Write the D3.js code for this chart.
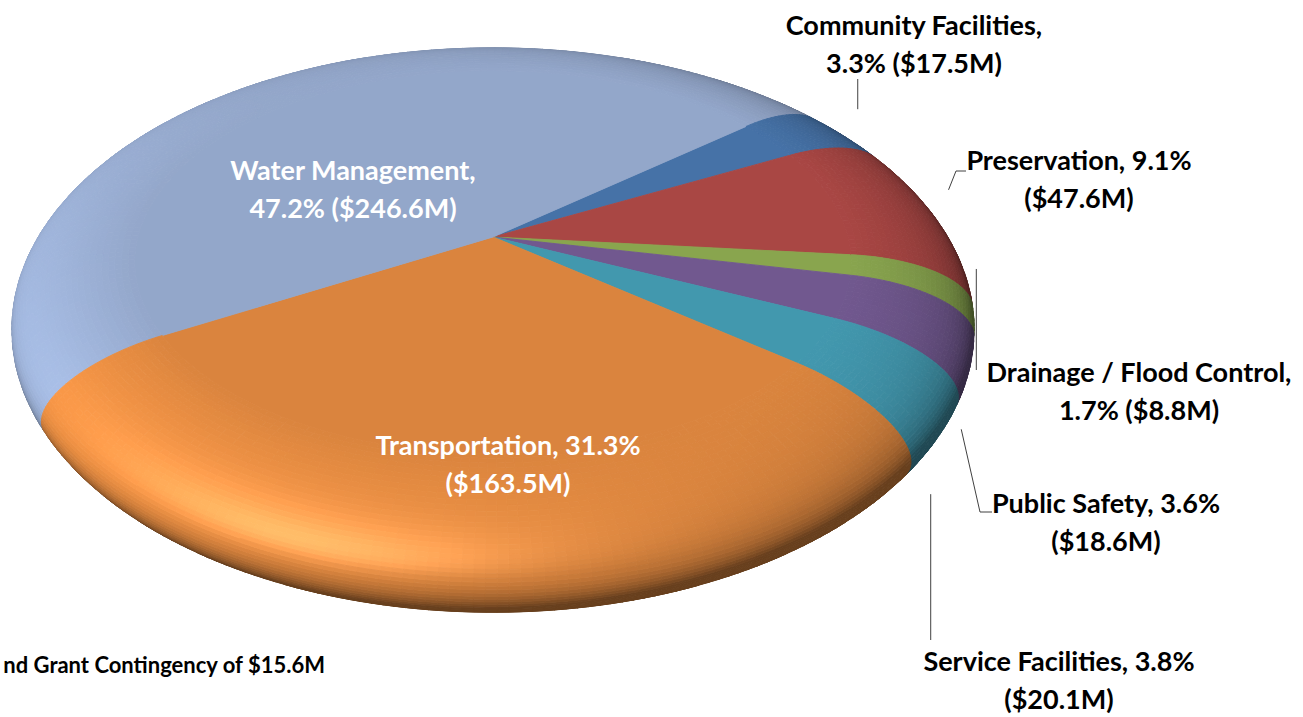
<!DOCTYPE html>
<html>
<head>
<meta charset="utf-8">
<script src="https://cdn.jsdelivr.net/npm/d3@7"></script>
<style>
  html, body { margin: 0; padding: 0; background: #fff; }
  svg { display: block; }
  text { font-family: Lato, "Open Sans", sans-serif; font-weight: 700; }
</style>
</head>
<body>
<svg width="1303" height="717"></svg>
<script>
// slices, clockwise from the top right
const categories = ["Community Facilities", "Preservation", "Drainage / Flood Control",
  "Public Safety", "Service Facilities", "Transportation", "Water Management"];
const amounts = [17.5, 47.6, 8.8, 18.6, 20.1, 163.5, 246.6]; // $M
const colors = ["#4F81BD", "#C0504D", "#9BBB59", "#8064A2", "#4BACC6", "#F79646", "#A7BDE5"];
const contingency = 15.6; // $M, footnote

const svg = d3.select("svg");
const rad = Math.PI / 180;

// disc of radius 1: flat top out to r0, then a rounded bevel that curls under
const r0 = 0.74, bevW = 0.26, bevD = 0.12, phiMax = 150;
const startT = 39.5; // where the first slice starts, degrees ccw from the right

// where the pie has to sit on the page
const box = { cx: 493, cy: 237, top: 48, bottom: 612, halfW: 481.5 };

function bevelPoint(t, phi) {
  const r = r0 + bevW * Math.sin(phi);
  return [r * Math.cos(t), r * Math.sin(t), -bevD * (1 - Math.cos(phi))];
}
function bevelNormal(t, phi) {
  const nr = Math.sin(phi) / bevW, nh = Math.cos(phi) / bevD;
  const l = Math.hypot(nr, nh);
  return [nr / l * Math.cos(t), nr / l * Math.sin(t), nh / l];
}

const dot = (a, b) => a[0] * b[0] + a[1] * b[1] + a[2] * b[2];
const sub = (a, b) => [a[0] - b[0], a[1] - b[1], a[2] - b[2]];
const add = (a, b) => [a[0] + b[0], a[1] + b[1], a[2] + b[2]];
const norm = a => { const l = Math.hypot(a[0], a[1], a[2]); return [a[0] / l, a[1] / l, a[2] / l]; };

// pick elevation + distance so the outline has the right shape
function fitCamera() {
  const samples = [];
  for (let t = 0; t < 360; t += 4)
    for (let phi = 0; phi <= phiMax; phi += 5) samples.push(bevelPoint(t * rad, phi * rad));
  const wantRatio = (box.cy - box.top) / (box.bottom - box.cy);
  const wantAspect = (box.bottom - box.top) / (2 * box.halfW);
  let best = { err: Infinity };
  for (let e = 20; e <= 50; e += 0.5) {
    const se = Math.sin(e * rad), ce = Math.cos(e * rad);
    for (let d = 2; d <= 16; d += 0.1) {
      let up = -Infinity, dn = Infinity, side = 0;
      for (const p of samples) {
        const z = d + p[1] * ce - p[2] * se;
        const y = (p[1] * se + p[2] * ce) / z, x = Math.abs(p[0]) / z;
        if (y > up) up = y;
        if (y < dn) dn = y;
        if (x > side) side = x;
      }
      const ratio = up / -dn, aspect = (up - dn) / (2 * side);
      const err = (ratio / wantRatio - 1) ** 2 + (aspect / wantAspect - 1) ** 2;
      if (err < best.err) best = { err, e: e * rad, d, f: (box.bottom - box.top) / (up - dn) };
    }
  }
  return best;
}

const fit = fitCamera();
const cam = (function (e, d, f) {
  const se = Math.sin(e), ce = Math.cos(e);
  return {
    eye: [0, -d * ce, d * se],
    depth: p => d + p[1] * ce - p[2] * se,
    project: p => {
      const z = d + p[1] * ce - p[2] * se;
      return [box.cx + f * p[0] / z, box.cy - f * (p[1] * se + p[2] * ce) / z];
    }
  };
})(fit.e, fit.d, fit.f);

const light = norm([-0.5, -0.35, 0.8]);
function shade(color, n, p) {
  const c = d3.rgb(color);
  const diff = 0.42 + 0.58 * Math.max(0, dot(n, light));
  const h = norm(add(light, norm(sub(cam.eye, p))));
  const spec = 0.2 * Math.pow(Math.max(0, dot(n, h)), 25);
  return d3.rgb(c.r * diff + 255 * spec, c.g * diff + 225 * spec, c.b * diff + 190 * spec).formatHex();
}

const pie = d3.pie().sort(null).value(d => d);
const arcs = pie(amounts);
const toT = a => startT * rad - a; // d3 angle (cw from 12 o'clock) -> disc angle

const tops = [], bevel = [];
const phiStep = 3;
arcs.forEach((a, i) => {
  const t0 = toT(a.startAngle), t1 = toT(a.endAngle);
  const n = Math.max(2, Math.ceil(Math.abs(t1 - t0) / (1.2 * rad)));
  const ts = d3.range(n + 1).map(k => t0 + (t1 - t0) * k / n);
  tops.push({
    pts: [[0, 0, 0]].concat(ts.map(t => [r0 * Math.cos(t), r0 * Math.sin(t), 0])),
    fill: shade(colors[i], [0, 0, 1], [0, 0, 0])
  });
  for (let k = 0; k < n; k++) {
    for (let p = 0; p < phiMax; p += phiStep) {
      const pa = p * rad, pb = Math.min(phiMax, p + phiStep) * rad;
      const tm = (ts[k] + ts[k + 1]) / 2, pm = (pa + pb) / 2;
      const c = bevelPoint(tm, pm), nn = bevelNormal(tm, pm);
      if (dot(nn, sub(cam.eye, c)) <= 0) continue;
      bevel.push({
        pts: [bevelPoint(ts[k], pa), bevelPoint(ts[k + 1], pa), bevelPoint(ts[k + 1], pb), bevelPoint(ts[k], pb)],
        fill: shade(colors[i], nn, c),
        z: cam.depth(c)
      });
    }
  }
});
bevel.sort((a, b) => b.z - a.z);

const line = d3.line();
svg.append("g")
  .selectAll("path")
  .data(tops.concat(bevel))
  .join("path")
  .attr("d", d => line(d.pts.map(cam.project)) + "Z")
  .attr("fill", d => d.fill)
  .attr("stroke", d => d.fill)
  .attr("stroke-width", 0.9)
  .attr("stroke-linejoin", "round");

// labels
const total = d3.sum(amounts);
const pct = v => d3.format(".1f")(v / total * 100) + "%";
const money = v => "($" + d3.format(".1f")(v) + "M)";
const labelLayout = [
  { x: 914, y: 25, wrap: "name", fill: "#000", anchor: 0, leader: a => [a, [a[0], 79]] },
  { x: 1079, y: 160, wrap: "pct", fill: "#000", anchor: 0, leader: a => [a, [956, 171], [966, 171]] },
  { x: 1139, y: 372, wrap: "name", fill: "#000", anchor: 0, leader: a => [[a[0] - 4, a[1] - 6], [a[0] - 4, 370]] },
  { x: 1106, y: 503, wrap: "pct", fill: "#000", anchor: -0.27, leader: a => [a, [980, 512], [992, 512]] },
  { x: 1059, y: 661, wrap: "pct", fill: "#000", anchor: -0.27, leader: a => [a, [a[0], 640]] },
  { x: 508, y: 445, wrap: "pct", fill: "#fff" },
  { x: 353, y: 170, wrap: "name", fill: "#fff" }
];

const labels = svg.append("g");
arcs.forEach((a, i) => {
  const L = labelLayout[i];
  const lines = L.wrap === "name"
    ? [categories[i] + ",", pct(amounts[i]) + " " + money(amounts[i])]
    : [categories[i] + ", " + pct(amounts[i]), money(amounts[i])];
  labels.append("text")
    .attr("text-anchor", "middle")
    .attr("font-size", 27)
    .attr("fill", L.fill)
    .selectAll("tspan")
    .data(lines)
    .join("tspan")
    .attr("x", L.x)
    .attr("y", (d, j) => L.y + 9.5 + j * 38)
    .text(d => d);
  if (L.leader) {
    const tm = toT((a.startAngle + a.endAngle) / 2);
    const p = cam.project([Math.cos(tm), Math.sin(tm), L.anchor]);
    labels.append("path")
      .attr("d", d3.line()(L.leader(p)))
      .attr("fill", "none")
      .attr("stroke", "#404040")
      .attr("stroke-width", 1);
  }
});

svg.append("text")
  .attr("x", 325)
  .attr("y", 673)
  .attr("text-anchor", "end")
  .attr("font-size", 22)
  .attr("fill", "#000")
  .text("nd Grant Contingency of $" + d3.format(".1f")(contingency) + "M");
</script>
</body>
</html>
